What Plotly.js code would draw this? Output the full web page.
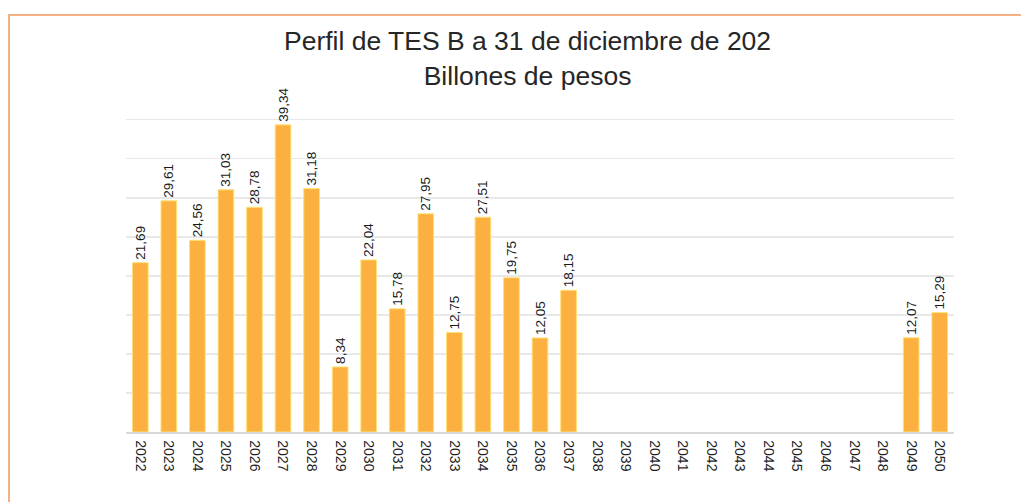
<!DOCTYPE html>
<html>
<head>
<meta charset="utf-8">
<script src="https://cdn.plot.ly/plotly-3.0.1.min.js"></script>
<style>
  html, body { margin: 0; padding: 0; background: #ffffff; }
  #wrap { position: relative; width: 1021px; height: 502px; overflow: hidden; }
  #chart { position: absolute; left: 0; top: 0; width: 1021px; height: 502px; }
  #frame { position: absolute; left: 8px; top: 14px; width: 1030px; height: 500px;
           border-left: 2px solid #F4B183; border-top: 2px solid #F4B183; pointer-events: none; }
</style>
</head>
<body>
<div id="wrap">
  <div id="chart"></div>
  <div id="frame"></div>
</div>
<script>
// Data
const years = ['2022','2023','2024','2025','2026','2027','2028','2029','2030','2031',
               '2032','2033','2034','2035','2036','2037','2038','2039','2040','2041',
               '2042','2043','2044','2045','2046','2047','2048','2049','2050'];
const values = [21.69, 29.61, 24.56, 31.03, 28.78, 39.34, 31.18, 8.34, 22.04, 15.78,
                27.95, 12.75, 27.51, 19.75, 12.05, 18.15, null, null, null, null,
                null, null, null, null, null, null, null, 12.07, 15.29];
const titleLines = ['Perfil de TES B a 31 de diciembre de 202', 'Billones de pesos'];

const labelFont = '"Liberation Sans", Arial, sans-serif';

const trace = {
  type: 'bar',
  x: years,
  y: values,
  marker: { color: '#FBB040', line: { color: '#FFE27A', width: 1 } },
  texttemplate: '%{y:.2f}',
  textposition: 'outside',
  textangle: -90,
  constraintext: 'none',
  cliponaxis: false,
  textfont: { family: labelFont, size: 13.5, color: '#1a1a1a' },
  hoverinfo: 'x+y'
};

const layout = {
  width: 1021,
  height: 502,
  paper_bgcolor: '#ffffff',
  plot_bgcolor: '#ffffff',
  separators: ',.',
  margin: { l: 126, r: 67, t: 115, b: 70 },
  bargap: 0.45,
  showlegend: false,
  title: {
    text: titleLines.join('<br>'),
    font: { family: '"Liberation Sans", Arial, sans-serif', size: 26.5, color: '#262626' },
    x: 0.5167, xref: 'container', xanchor: 'center',
    y: 0.90, yref: 'container', yanchor: 'top'
  },
  xaxis: {
    type: 'category',
    tickangle: 90,
    ticklabelstandoff: 4,
    tickfont: { family: labelFont, size: 14, color: '#1f1f1f' },
    showline: true, linecolor: '#d9d9d9', linewidth: 1.5,
    ticks: '', showgrid: false
  },
  yaxis: {
    range: [0, 40.6],
    dtick: 5,
    showticklabels: false,
    showgrid: true, gridcolor: '#e8e8e8', gridwidth: 1.5,
    zeroline: false, showline: false, ticks: ''
  }
};

Plotly.newPlot('chart', [trace], layout, { displayModeBar: false, staticPlot: true });
</script>
</body>
</html>
